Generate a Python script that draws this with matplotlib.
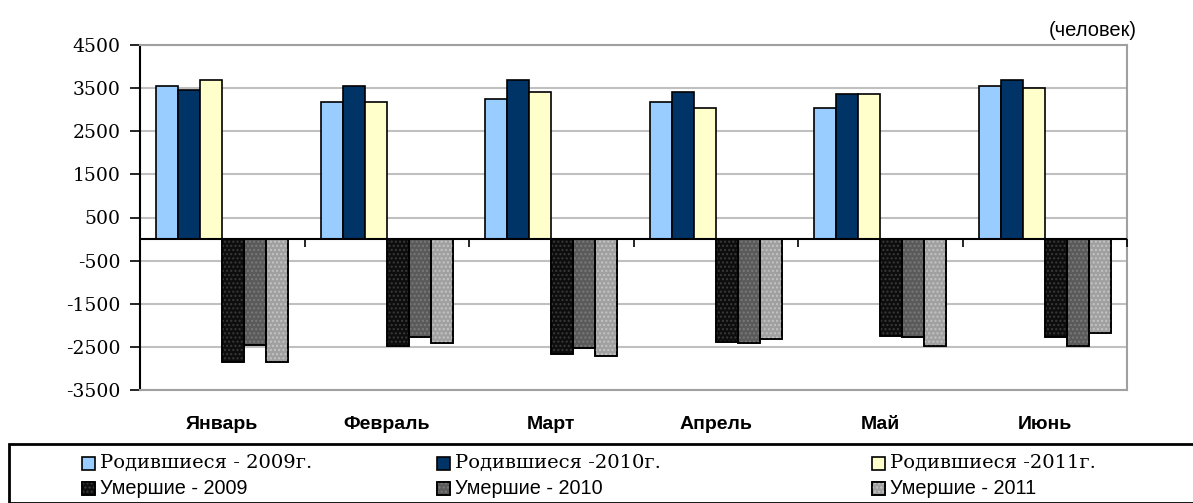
import matplotlib
matplotlib.use("Agg")
import matplotlib.pyplot as plt
from matplotlib.patches import Rectangle
import numpy as np

months = ["Январь", "Февраль", "Март", "Апрель", "Май", "Июнь"]
born_2009 = [3540, 3180, 3255, 3180, 3030, 3540]
born_2010 = [3450, 3540, 3680, 3400, 3365, 3680]
born_2011 = [3680, 3180, 3400, 3030, 3365, 3500]
died_2009 = [-2840, -2475, -2670, -2390, -2250, -2280]
died_2010 = [-2450, -2280, -2515, -2420, -2280, -2480]
died_2011 = [-2840, -2420, -2700, -2325, -2480, -2185]
yticks = [4500, 3500, 2500, 1500, 500, -500, -1500, -2500, -3500]
labels = ["Родившиеся - 2009г.", "Родившиеся -2010г.", "Родившиеся -2011г.",
          "Умершие - 2009", "Умершие - 2010", "Умершие - 2011"]
unit_label = "(человек)"

W, H = 1193, 503
fig = plt.figure(figsize=(W / 100, H / 100), dpi=100)
fig.patch.set_facecolor("white")
ax = fig.add_axes([140 / W, (H - 390) / H, (1127 - 140) / W, (390 - 45) / H])

series = [born_2009, born_2010, born_2011, died_2009, died_2010, died_2011]
faces = ["#99ccff", "#003366", "#ffffcc", "#0d0d0d", "#5a5a5a", "#a0a0a0"]
hatch_cols = [None, None, None, "#3a3a3a", "#7a7a7a", "#c4c4c4"]
x = np.arange(len(months))
bw = 0.134
for i, (vals, fc, hc) in enumerate(zip(series, faces, hatch_cols)):
    pos = x + (i - 2.5) * bw
    ax.bar(pos, vals, width=bw, color=fc, edgecolor="black", linewidth=1.2, zorder=3)
    if hc:
        ax.bar(pos, vals, width=bw, fill=False, hatch="....", edgecolor=hc,
               linewidth=0, zorder=4)
        ax.bar(pos, vals, width=bw, fill=False, edgecolor="black", linewidth=1.2, zorder=5)

ax.set_xlim(-0.5, len(months) - 0.5)
ax.set_ylim(-3500, 4500)
ax.set_yticks(yticks)
ax.set_yticklabels([str(v) for v in yticks], fontfamily="DejaVu Serif", fontsize=13.5)
ax.tick_params(axis="y", direction="out", length=7, width=1.2, pad=7, color="black")
ax.grid(axis="y", color="#c0c0c0", linewidth=1.5, zorder=0)
ax.set_axisbelow(True)

ax.set_xticks(x)
ax.set_xticklabels(months, fontfamily="Liberation Sans", fontweight="bold", fontsize=14)
ax.tick_params(axis="x", length=0, pad=19)

for s in ["top", "right", "bottom"]:
    ax.spines[s].set_color("#a0a0a0")
    ax.spines[s].set_linewidth(1.5)
ax.spines["left"].set_color("black")
ax.spines["left"].set_linewidth(1.5)

ax.axhline(0, color="black", linewidth=1.5, zorder=6)
bounds = np.arange(len(months) + 1) - 0.5
ax.vlines(bounds[1:], -180, 0, color="black", linewidth=1.2, zorder=6, clip_on=False)

fig.text(1137 / W, 1 - 31 / H, unit_label, ha="right", va="center",
         fontfamily="Liberation Sans", fontsize=14.5)

# Legend
fig.add_artist(Rectangle((9 / W, 0), 1.05, (H - 444) / H, transform=fig.transFigure,
                         facecolor="none", edgecolor="black", linewidth=2, clip_on=False))
col_x = [82, 437, 872]
row_y = [463, 488]
for i, lab in enumerate(labels):
    cx = col_x[i % 3]
    cy = row_y[i // 3]
    sq = 13
    fig.add_artist(Rectangle((cx / W, (H - cy - sq / 2) / H), sq / W, sq / H,
                             transform=fig.transFigure, facecolor=faces[i],
                             edgecolor="black", linewidth=1.2))
    if hatch_cols[i]:
        fig.add_artist(Rectangle((cx / W, (H - cy - sq / 2) / H), sq / W, sq / H,
                                 transform=fig.transFigure, fill=False, hatch="....",
                                 edgecolor=hatch_cols[i], linewidth=0))
        fig.add_artist(Rectangle((cx / W, (H - cy - sq / 2) / H), sq / W, sq / H,
                                 transform=fig.transFigure, fill=False,
                                 edgecolor="black", linewidth=1.2))
    fam = "DejaVu Serif" if i < 3 else "Liberation Sans"
    fs = 14 if i < 3 else 14.3
    fig.text((cx + 18) / W, 1 - cy / H, lab, ha="left", va="center",
             fontfamily=fam, fontsize=fs)

fig.savefig("out.png", dpi=100, facecolor="white")
